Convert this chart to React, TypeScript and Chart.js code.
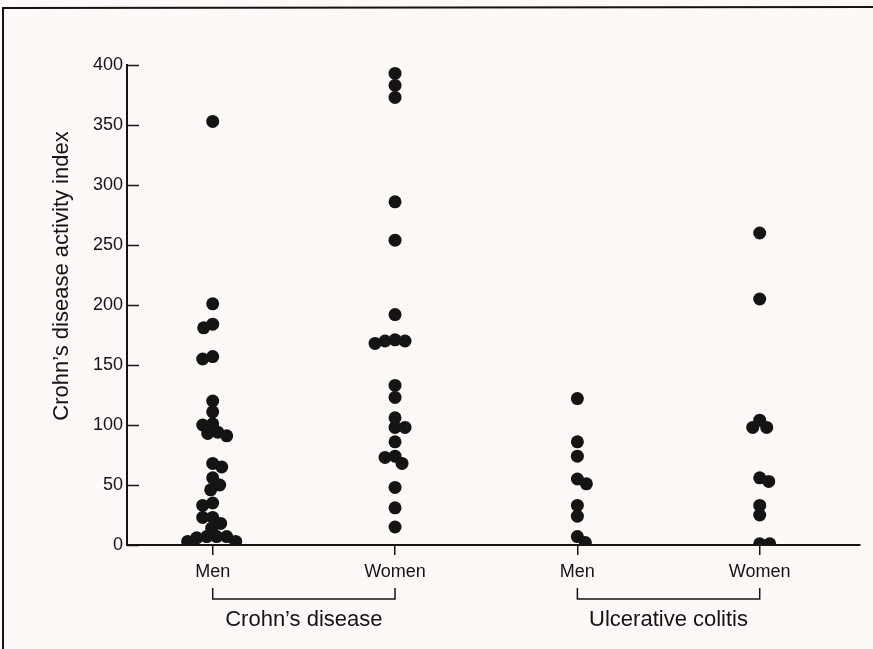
import React, { useEffect, useRef } from "react";
import { Chart, registerables } from "chart.js";

Chart.register(...registerables);

// ---------- data ----------
const groupLabels = ["Men", "Women", "Men", "Women"];
const diseaseLabels = ["Crohn’s disease", "Ulcerative colitis"];
const yTitle = "Crohn’s disease activity index";
const yTicks = [0, 50, 100, 150, 200, 250, 300, 350, 400];

const crohnMen = [
  353, 201, 184, 181, 157, 155, 120, 111, 101, 100, 94, 93, 91, 68, 65, 56, 50,
  46, 35, 33, 23, 23, 18, 14, 7, 7, 7, 6, 3, 3,
];
const crohnWomen = [
  393, 383, 373, 286, 254, 192, 170, 171, 170, 168, 133, 123, 106, 98, 98, 86,
  74, 73, 68, 48, 31, 15,
];
const colitisMen = [122, 86, 74, 55, 51, 33, 24, 7, 2];
const colitisWomen = [260, 205, 104, 98, 98, 56, 53, 33, 25, 1, 1];

const groups = [crohnMen, crohnWomen, colitisMen, colitisWomen];

const FONT = "'Liberation Sans', Arial, Helvetica, sans-serif";
const INK = "#141414";
const BG = "#fcf9f6";

const annotations = {
  id: "annotations",
  afterDraw(chart: any) {
    const ctx = chart.ctx as CanvasRenderingContext2D;
    const xs = chart.scales.x;
    const ys = chart.scales.y;
    const area = chart.chartArea;
    ctx.save();
    ctx.strokeStyle = INK;
    ctx.fillStyle = INK;

    // frame (top and left edges)
    ctx.lineWidth = 2;
    ctx.beginPath();
    ctx.moveTo(3, 649);
    ctx.lineTo(3, 8);
    ctx.lineTo(873, 7);
    ctx.stroke();

    // inward y ticks
    ctx.lineWidth = 1.5;
    yTicks.forEach((v) => {
      const y = Math.round(ys.getPixelForValue(v)) + 0.5;
      ctx.beginPath();
      ctx.moveTo(area.left, y);
      ctx.lineTo(area.left + 12, y);
      ctx.stroke();
    });

    // brackets + disease labels
    const bracketY = 599;
    ctx.lineWidth = 1.5;
    ctx.font = `22px ${FONT}`;
    ctx.textAlign = "center";
    ctx.textBaseline = "middle";
    diseaseLabels.forEach((lab, i) => {
      const x1 = xs.getPixelForValue(i * 2 + 1);
      const x2 = xs.getPixelForValue(i * 2 + 2);
      ctx.beginPath();
      ctx.moveTo(x1, bracketY - 11);
      ctx.lineTo(x1, bracketY);
      ctx.lineTo(x2, bracketY);
      ctx.lineTo(x2, bracketY - 11);
      ctx.stroke();
      ctx.fillText(lab, (x1 + x2) / 2, 620);
    });

    // y title
    ctx.font = `22px ${FONT}`;
    ctx.translate(62, 276);
    ctx.rotate(-Math.PI / 2);
    ctx.fillText(yTitle, 0, 0);
    ctx.restore();
  },
};

function layoutSwarm(chart: any) {
  const xs = chart.scales.x;
  const ys = chart.scales.y;
  const STEP = 1;
  const MIN_D = 9.5;
  groups.forEach((vals, gi) => {
    const cx = xs.getPixelForValue(gi + 1);
    const placed: { px: number; py: number }[] = [];
    const out: { x: number; y: number }[] = new Array(vals.length);
    const order = vals.map((_, i) => i).sort((a, b) => vals[b] - vals[a]);
    order.forEach((i, n) => {
      const py = ys.getPixelForValue(vals[i]);
      let chosen = 0;
      outer: for (let k = 0; k < 80; k++) {
        const cands = k === 0 ? [0] : n % 2 === 0 ? [k * STEP, -k * STEP] : [-k * STEP, k * STEP];
        for (const dx of cands) {
          if (placed.every((p) => Math.hypot(p.px - (cx + dx), p.py - py) >= MIN_D)) {
            chosen = dx;
            break outer;
          }
        }
      }
      placed.push({ px: cx + chosen, py });
      out[i] = { x: xs.getValueForPixel(cx + chosen), y: vals[i] };
    });
    chart.data.datasets[gi].data = out;
  });
  chart.update();
}

export default function App() {
  const ref = useRef<HTMLCanvasElement | null>(null);

  useEffect(() => {
    if (!ref.current) return;
    const chart = new Chart(ref.current, {
      type: "scatter",
      data: {
        datasets: groups.map((vals, gi) => ({
          label: groupLabels[gi],
          data: vals.map((v) => ({ x: gi + 1, y: v })),
          backgroundColor: INK,
          borderWidth: 0,
          pointRadius: 6.5,
          pointHoverRadius: 6.5,
        })),
      },
      options: {
        responsive: false,
        animation: false,
        devicePixelRatio: 1,
        layout: { padding: { top: 65, right: 13, bottom: 0, left: 0 } },
        plugins: {
          legend: { display: false },
          tooltip: { enabled: false },
          title: { display: false },
        },
        scales: {
          x: {
            type: "linear",
            min: 0.53,
            max: 4.55,
            afterBuildTicks: (scale: any) => {
              scale.ticks = [1, 2, 3, 4].map((v) => ({ value: v }));
            },
            afterFit: (scale: any) => {
              scale.height = 104;
            },
            ticks: {
              callback: (v: any) => groupLabels[Number(v) - 1] ?? "",
              font: { family: FONT, size: 18 },
              color: INK,
              padding: 6,
              maxRotation: 0,
              autoSkip: false,
            },
            grid: {
              display: true,
              drawOnChartArea: false,
              drawTicks: true,
              tickLength: 10,
              color: INK,
              lineWidth: 1.5,
            },
            border: { display: true, color: INK, width: 2 },
          },
          y: {
            type: "linear",
            min: 0,
            max: 400,
            afterBuildTicks: (scale: any) => {
              scale.ticks = yTicks.map((v) => ({ value: v }));
            },
            afterFit: (scale: any) => {
              scale.width = 127;
            },
            ticks: {
              font: { family: FONT, size: 18 },
              color: INK,
              padding: 4,
            },
            grid: { display: false, drawTicks: false },
            border: { display: true, color: INK, width: 2 },
          },
        },
      },
      plugins: [annotations],
    });
    layoutSwarm(chart);
    return () => chart.destroy();
  }, []);

  return (
    <div style={{ position: "fixed", left: 0, top: 0, width: 873, height: 649, background: BG }}>
      <canvas ref={ref} width={873} height={649} style={{ display: "block" }} />
    </div>
  );
}
